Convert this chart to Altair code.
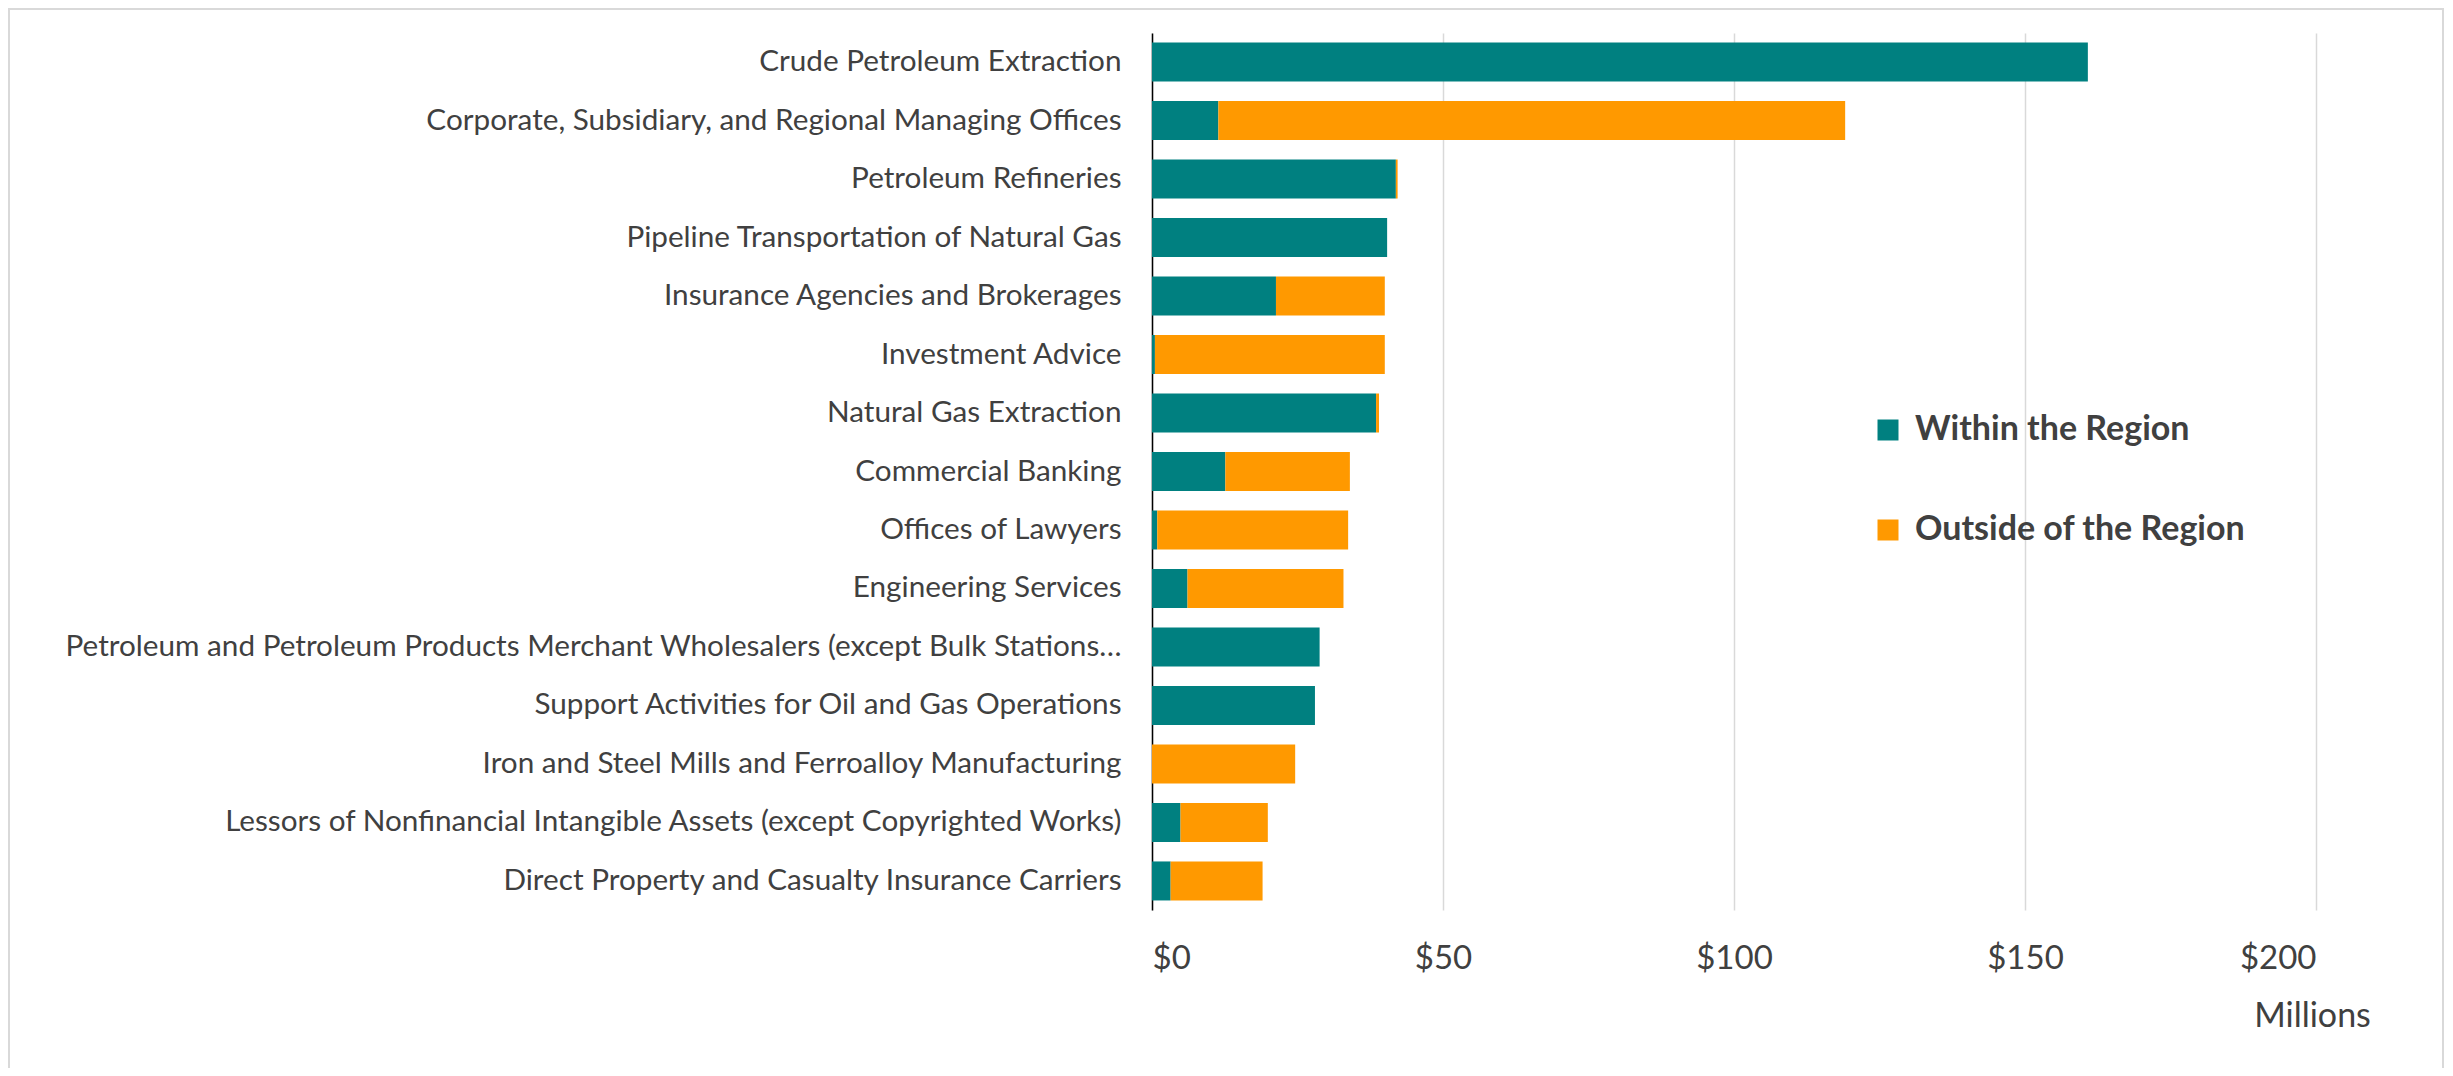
import altair as alt
import pandas as pd

categories = [
    "Crude Petroleum Extraction",
    "Corporate, Subsidiary, and Regional Managing Offices",
    "Petroleum Refineries",
    "Pipeline Transportation of Natural Gas",
    "Insurance Agencies and Brokerages",
    "Investment Advice",
    "Natural Gas Extraction",
    "Commercial Banking",
    "Offices of Lawyers",
    "Engineering Services",
    "Petroleum and Petroleum Products Merchant Wholesalers (except Bulk Stations…",
    "Support Activities for Oil and Gas Operations",
    "Iron and Steel Mills and Ferroalloy Manufacturing",
    "Lessors of Nonfinancial Intangible Assets (except Copyrighted Works)",
    "Direct Property and Casualty Insurance Carriers",
]
within_region = [160.8, 11.4, 41.9, 40.4, 21.3, 0.5, 38.5, 12.6, 0.9, 6.1, 28.8, 28.0, 0.0, 4.9, 3.2]
outside_region = [0.0, 107.7, 0.3, 0.0, 18.7, 39.5, 0.5, 21.4, 32.8, 26.8, 0.0, 0.0, 24.6, 15.0, 15.8]
series = ["Within the Region", "Outside of the Region"]
colors = ["#008080", "#FF9900"]
x_ticks = [0, 50, 100, 150, 200]

rows = []
for c, w, o in zip(categories, within_region, outside_region):
    rows.append({"industry": c, "series": series[0], "order": 0, "value": w})
    rows.append({"industry": c, "series": series[1], "order": 1, "value": o})
df = pd.DataFrame(rows)

FONT = "Lato"
TXT = "#404040"

bars = alt.Chart(df).mark_bar().encode(
    y=alt.Y(
        "industry:N",
        sort=categories,
        scale=alt.Scale(paddingInner=0.333, paddingOuter=0.163),
        axis=alt.Axis(
            title=None,
            labelFont=FONT,
            labelFontSize=29.7,
            labelColor=TXT,
            labelPadding=31,
            labelLimit=1200,
            ticks=False,
            domainColor="#000000",
            domainWidth=1.5,
            grid=False,
        ),
    ),
    x=alt.X(
        "value:Q",
        stack="zero",
        scale=alt.Scale(domain=[0, 200], nice=False),
        axis=alt.Axis(
            values=x_ticks,
            labelExpr="'$' + datum.value",
            labelFont=FONT,
            labelFontSize=33,
            labelColor=TXT,
            labelPadding=32,
            ticks=False,
            domain=False,
            grid=True,
            gridColor="#d9d9d9",
            gridWidth=1.5,
            title="Millions",
            titleFont=FONT,
            titleFontSize=34,
            titleFontWeight="normal",
            titleColor=TXT,
            titleX=1160,
            titleY=106,
            titleAlign="center",
            titleBaseline="middle",
        ),
    ),
    color=alt.Color(
        "series:N",
        scale=alt.Scale(domain=series, range=colors),
        legend=alt.Legend(
            title=None,
            orient="none",
            legendX=719,
            legendY=380,
            symbolType="square",
            symbolSize=441,
            symbolStrokeWidth=0,
            labelFont=FONT,
            labelFontSize=34,
            labelFontWeight="bold",
            labelColor=TXT,
            labelLimit=800,
            rowPadding=66,
            labelOffset=10,
        ),
    ),
    order=alt.Order("order:Q"),
)

frame_df = pd.DataFrame({"a": [0]})
frame = alt.Chart(frame_df).mark_rect(fill=None, stroke="#d9d9d9", strokeWidth=2).encode(
    x=alt.value(-1143),
    x2=alt.value(1291),
    y=alt.value(-24),
    y2=alt.value(1037),
)

chart = alt.layer(frame, bars).properties(
    width=1164,
    height=877,
    autosize=alt.AutoSizeParams(type="none"),
    padding={"left": 1144, "top": 25, "right": 129, "bottom": 158},
).configure_view(stroke=None)

chart.save("out.html", embed_options={"renderer": "svg", "actions": False})
